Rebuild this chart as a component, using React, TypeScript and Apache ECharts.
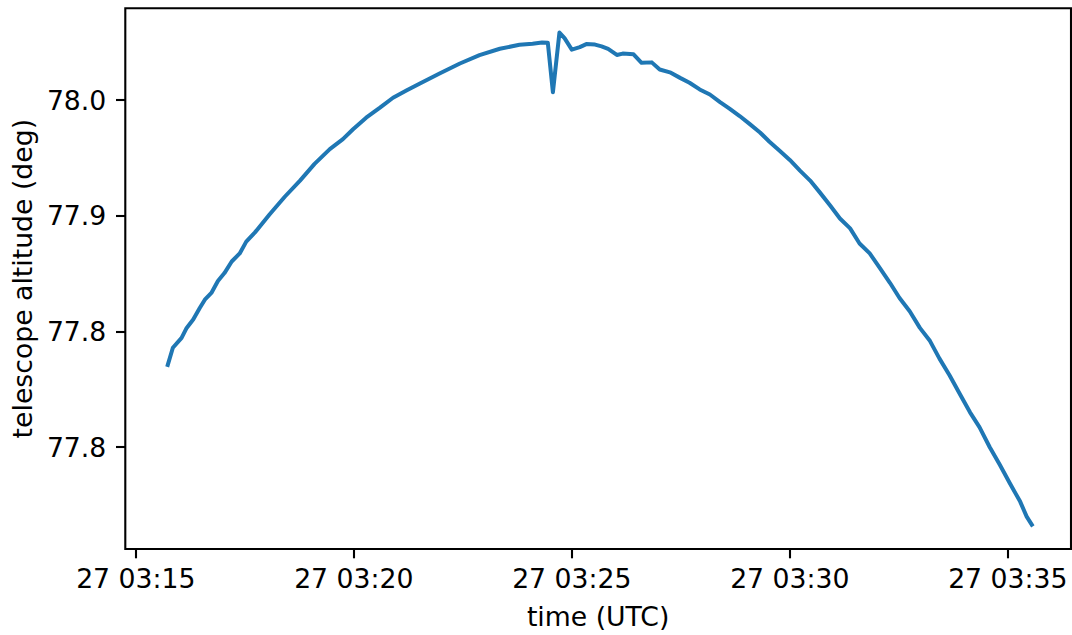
import React, { useEffect, useRef } from "react";
import * as echarts from "echarts";

// Sample times (UTC, day 27) and telescope altitude in degrees
const times = [
  "03:15:44", "03:15:51", "03:16:03", "03:16:10", "03:16:19", "03:16:28", "03:16:35", "03:16:44", "03:16:53", "03:17:02",
  "03:17:12", "03:17:23", "03:17:32", "03:17:44", "03:18:04", "03:18:25", "03:18:46", "03:19:06", "03:19:27", "03:19:45",
  "03:19:59", "03:20:17", "03:20:36", "03:20:54", "03:21:13", "03:21:31", "03:21:58", "03:22:26", "03:22:53", "03:23:21",
  "03:23:48", "03:24:06", "03:24:19", "03:24:27", "03:24:34", "03:24:43", "03:24:50", "03:25:00", "03:25:11", "03:25:20",
  "03:25:32", "03:25:41", "03:25:50", "03:26:02", "03:26:10", "03:26:25", "03:26:36", "03:26:50", "03:27:01", "03:27:15",
  "03:27:29", "03:27:42", "03:27:56", "03:28:10", "03:28:24", "03:28:37", "03:28:51", "03:29:05", "03:29:19", "03:29:32",
  "03:29:46", "03:30:00", "03:30:14", "03:30:28", "03:30:41", "03:30:55", "03:31:09", "03:31:23", "03:31:36", "03:31:50",
  "03:32:04", "03:32:18", "03:32:31", "03:32:45", "03:32:59", "03:33:13", "03:33:26", "03:33:40", "03:33:54", "03:34:08",
  "03:34:21", "03:34:35", "03:34:49", "03:35:03", "03:35:17", "03:35:26", "03:35:33",
];

const altitude = [
  77.8355, 77.8429, 77.8472, 77.8515, 77.8551, 77.8601, 77.8637, 77.8666, 77.8718, 77.8752,
  77.8802, 77.8837, 77.8888, 77.8928, 77.9005, 77.9082, 77.9152, 77.9224, 77.9288, 77.9331,
  77.9374, 77.9424, 77.9467, 77.951, 77.9542, 77.9572, 77.9615, 77.9658, 77.9694, 77.9722,
  77.9739, 77.9744, 77.9749, 77.9748, 77.9534, 77.9792, 77.9768, 77.9718, 77.9729, 77.9742,
  77.974, 77.9732, 77.9721, 77.9695, 77.9701, 77.9698, 77.9661, 77.9663, 77.9632, 77.962,
  77.9596, 77.9575, 77.9546, 77.9524, 77.9491, 77.9463, 77.9431, 77.9396, 77.936, 77.932,
  77.9281, 77.9241, 77.9195, 77.9152, 77.9102, 77.9046, 77.8988, 77.8945, 77.888, 77.8837,
  77.8773, 77.8709, 77.8644, 77.8587, 77.8515, 77.8458, 77.8382, 77.8309, 77.8229, 77.815,
  77.8086, 77.8, 77.7923, 77.7842, 77.7764, 77.7699, 77.7664,
];

// Tick positions (seconds after 03:00:00 UTC) and labels
const xTickTimes = ["03:15:00", "03:20:00", "03:25:00", "03:30:00", "03:35:00"];
const xTickLabels = ["27 03:15", "27 03:20", "27 03:25", "27 03:30", "27 03:35"];
const yTickValues = [77.8, 77.85, 77.9, 77.95];
const yTickLabels = ["77.8", "77.8", "77.9", "78.0"];

function toSec(t: string): number {
  const [h, m, s] = t.split(":").map(Number);
  return (h - 3) * 3600 + m * 60 + s;
}

function nearestLabel(v: number, vals: number[], labels: string[]): string {
  let best = 0;
  for (let i = 1; i < vals.length; i++) {
    if (Math.abs(vals[i] - v) < Math.abs(vals[best] - v)) best = i;
  }
  return labels[best];
}

const FONT = "DejaVu Sans";
const FS = 26.7;

export default function App() {
  const ref = useRef<HTMLDivElement>(null);

  useEffect(() => {
    document.body.style.margin = "0";
    if (!ref.current) return;
    const chart = echarts.init(ref.current, null, { renderer: "svg" });
    const xTickValues = xTickTimes.map(toSec);
    const data = times.map((t, i) => [toSec(t), altitude[i]]);

    chart.setOption({
      animation: false,
      backgroundColor: "#ffffff",
      grid: {
        left: 125.3,
        right: 1,
        top: 8.3,
        bottom: 82.3,
        show: true,
        borderColor: "#000000",
        borderWidth: 2.1,
        backgroundColor: "transparent",
      },
      xAxis: {
        type: "value",
        min: 885.55,
        max: 2186.97,
        name: "time (UTC)",
        nameLocation: "middle",
        nameGap: 54,
        nameTextStyle: { fontFamily: FONT, fontSize: FS, color: "#000000" },
        axisLine: { show: false },
        axisTick: {
          show: true,
          customValues: xTickValues,
          length: 9.3,
          lineStyle: { color: "#000000", width: 2.1 },
        },
        axisLabel: {
          customValues: xTickValues,
          formatter: (v: number) => nearestLabel(v, xTickValues, xTickLabels),
          margin: 16,
          fontFamily: FONT,
          fontSize: FS,
          color: "#000000",
        },
        splitLine: { show: false },
      },
      yAxis: {
        type: "value",
        min: 77.7559,
        max: 77.98968,
        name: "telescope altitude (deg)",
        nameLocation: "middle",
        nameGap: 87,
        nameTextStyle: { fontFamily: FONT, fontSize: FS, color: "#000000" },
        axisLine: { show: false },
        axisTick: {
          show: true,
          customValues: yTickValues,
          length: 9.3,
          lineStyle: { color: "#000000", width: 2.1 },
        },
        axisLabel: {
          customValues: yTickValues,
          formatter: (v: number) => nearestLabel(v, yTickValues, yTickLabels),
          margin: 19,
          fontFamily: FONT,
          fontSize: FS,
          color: "#000000",
        },
        splitLine: { show: false },
      },
      series: [
        {
          type: "line",
          data,
          symbol: "none",
          showSymbol: false,
          silent: true,
          lineStyle: { color: "#1f77b4", width: 4, join: "round", cap: "square" },
        },
      ],
    });

    return () => chart.dispose();
  }, []);

  return <div ref={ref} style={{ width: 1072, height: 635 }} />;
}
